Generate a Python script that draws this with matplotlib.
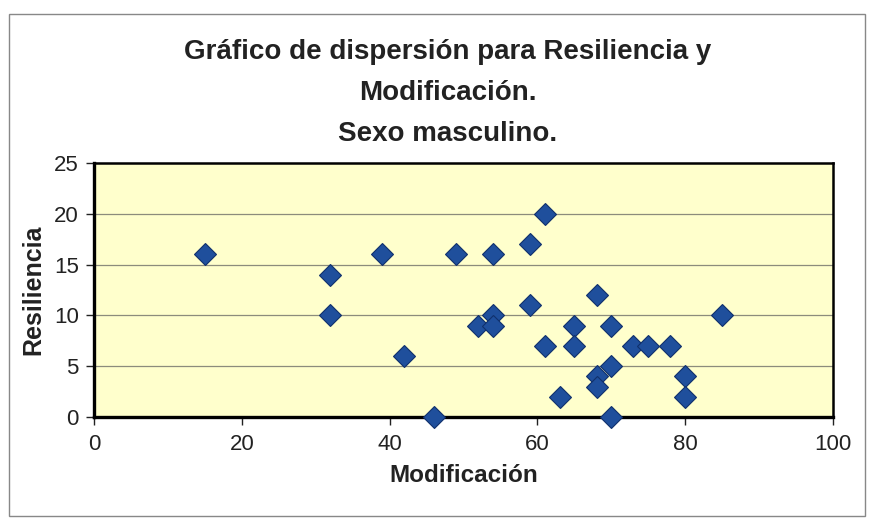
import matplotlib.pyplot as plt
from matplotlib.patches import Rectangle

# Modificación (x) vs Resiliencia (y), sexo masculino
modificacion = [15, 32, 32, 39, 42, 46, 49, 52, 54, 54, 54, 59, 59, 61, 61,
                63, 65, 65, 68, 68, 68, 70, 70, 70, 73, 75, 78, 80, 80, 85]
resiliencia = [16, 14, 10, 16, 6, 0, 16, 9, 16, 10, 9, 17, 11, 20, 7,
               2, 9, 7, 12, 4, 3, 9, 5, 0, 7, 7, 7, 4, 2, 10]

x_ticks = [0, 20, 40, 60, 80, 100]
y_ticks = [0, 5, 10, 15, 20, 25]

plt.rcParams['font.family'] = ['Liberation Sans', 'DejaVu Sans']

W, H = 870, 522
fig = plt.figure(figsize=(8.7, 5.22), dpi=100)
fig.patch.set_facecolor('white')
ax = fig.add_axes([94 / W, 1 - 417 / H, (833 - 94) / W, (417 - 163) / H])
ax.set_facecolor('#ffffcc')

# outer chart border
fig.patches.append(Rectangle((9 / W, 1 - 516 / H), 856 / W, 502 / H,
                             transform=fig.transFigure, fill=False,
                             edgecolor='#888888', linewidth=1.0))

for v in y_ticks[1:-1]:
    ax.axhline(v, color='#8c8c7c', linewidth=0.9, zorder=1)

ax.plot(modificacion, resiliencia, linestyle='none', marker='D', markersize=11,
        markerfacecolor='#1f4f9c', markeredgecolor='#10306c', markeredgewidth=0.8,
        zorder=3, clip_on=False)

ax.set_xlim(0, 100)
ax.set_ylim(0, 25)
ax.set_xticks(x_ticks)
ax.set_yticks(y_ticks)
ax.tick_params(axis='both', labelsize=16, length=6, width=1, direction='out',
               colors='#222222', pad=5)
ax.tick_params(axis='x', pad=6)

for side in ['left', 'bottom']:
    ax.spines[side].set_linewidth(2.4)
for side in ['top', 'right']:
    ax.spines[side].set_linewidth(1.8)

ax.set_xlabel('Modificación', fontsize=17.5, fontweight='bold', labelpad=7,
              color='#222222')
ax.set_ylabel('Resiliencia', fontsize=18, fontweight='bold', labelpad=6,
              color='#222222')

title_lines = ['Gráfico de dispersión para Resiliencia y',
               'Modificación.',
               'Sexo masculino.']
for line, base in zip(title_lines, [59, 100, 141]):
    fig.text(448 / W, 1 - base / H, line, ha='center', va='baseline',
             fontsize=20, fontweight='bold', color='#222222')

fig.savefig('out.png', dpi=100)
